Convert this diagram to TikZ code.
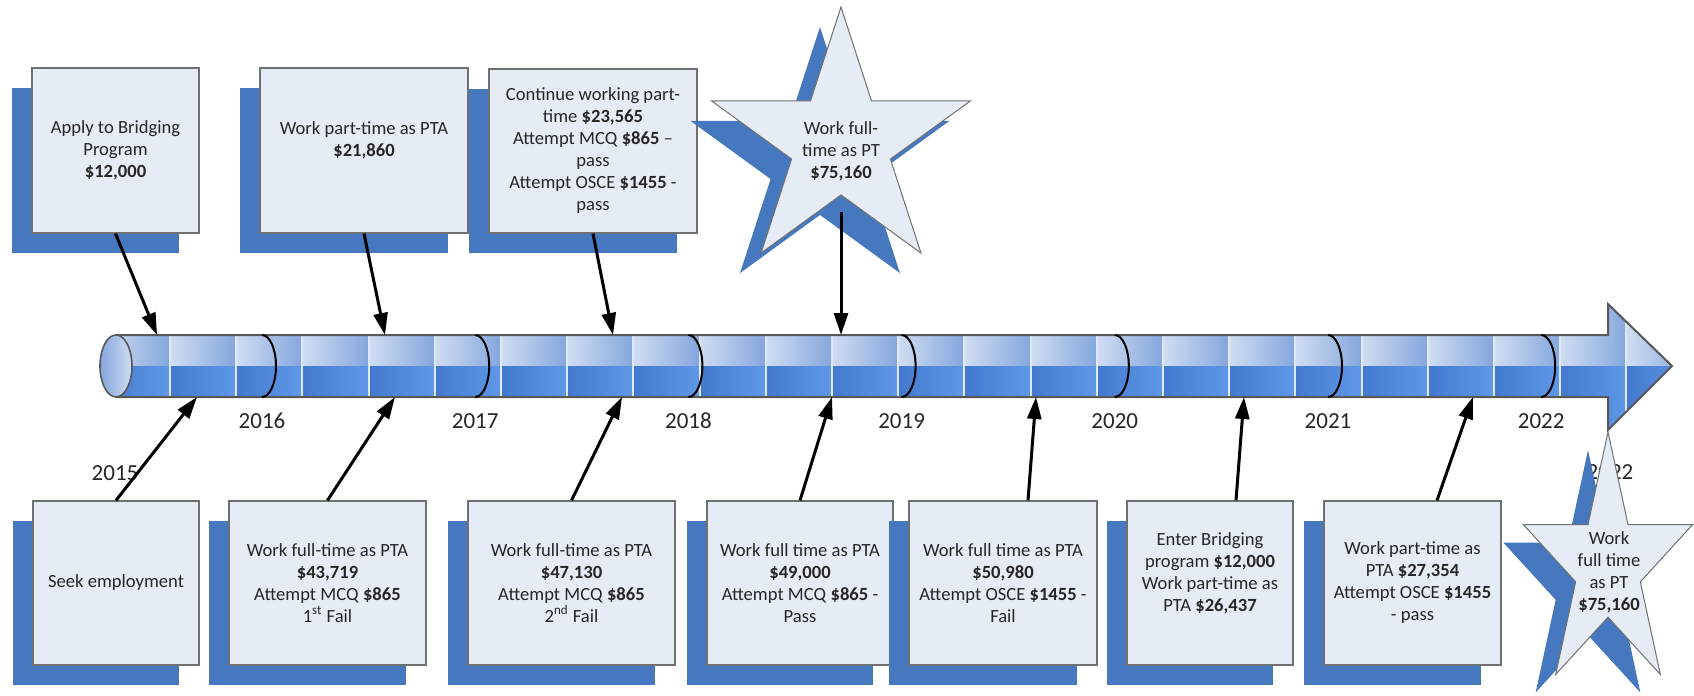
\documentclass[tikz,border=0pt]{standalone}
\usepackage{fontspec}
\setmainfont{Carlito}
\usetikzlibrary{arrows.meta, shadows, calc, positioning}

\definecolor{shadowblue}{RGB}{70,120,192}
\definecolor{boxfill}{RGB}{230,236,246}
\definecolor{boxline}{RGB}{112,112,112}
\definecolor{cellhiL}{RGB}{208,221,242}
\definecolor{cellhiR}{RGB}{132,166,221}
\definecolor{cellloL}{RGB}{66,121,206}
\definecolor{cellloR}{RGB}{96,152,232}
\definecolor{cellline}{RGB}{222,232,247}
\definecolor{tubeline}{RGB}{88,88,88}
\definecolor{textgray}{RGB}{38,38,38}

\newcommand{\evtext}{\fontsize{9.3}{11}\selectfont}
\newcommand{\yrtext}{\fontsize{11.5}{13}\selectfont}
\def\starpath#1#2#3#4{plot[samples at={0,...,9}] ({#1+#3*(1-0.618*mod(\x,2))*cos(90+36*\x)}, {#2-#4*(1-0.618*mod(\x,2))*sin(90+36*\x)}) -- cycle}

\tikzset{
  event/.style={draw=boxline, fill=boxfill, line width=0.6pt, align=center,
    font=\evtext, text=textgray, inner sep=2pt,
    drop shadow={shadow xshift=-10pt, shadow yshift=-10pt, fill=shadowblue, opacity=1}},
  starbody/.style={fill=boxfill, draw=boxline, line width=0.5pt},
  startext/.style={align=center, font=\evtext, text=textgray},
  link/.style={line width=1.5pt, -{Triangle[length=11pt,width=7pt]}},
  year/.style={font=\yrtext, text=textgray},
  yearring/.style={line width=1pt, black},
}

\begin{document}
\begin{tikzpicture}[x=0.5pt, y=-0.5pt]

    \useasboundingbox (0,0) rectangle (1694,696);

    % timeline
    \begin{scope}
        \clip (116,335) -- (1608,335) -- (1608,304) -- (1672,366) -- (1608,430) -- (1608,397) -- (116,397) -- cycle;
        \foreach \k in {0,...,23} {
            \pgfmathsetmacro\xa{103.8+66.2*\k}
            \shade[left color=cellhiL, right color=cellhiR] (\xa,300) rectangle ++(66.2,66);
            \shade[left color=cellloL, right color=cellloR] (\xa,366) rectangle ++(66.2,68);
            \draw[cellline, line width=1pt] (\xa,300) -- ++(0,134);
        }
    \end{scope}
    \draw[tubeline, line width=1pt] (116,335) -- (1608,335) -- (1608,304) -- (1672,366) -- (1608,430) -- (1608,397) -- (116,397);
    \filldraw[draw=tubeline, line width=0.8pt, left color=cellhiR, right color=cellhiL]
        (116,366) ellipse [x radius=8pt, y radius=15.5pt];

    \foreach \yr [count=\i from 0] in {2016,...,2022} {
        \pgfmathsetmacro\xr{262+213.2*\i}
        \draw[yearring] (\xr,335) arc[start angle=90, end angle=-90, x radius=7pt, y radius=15.5pt];
        \node[year] (y\yr) at (\xr,421) {\yr};
    }
    \node[year] (y2015) at (115,473) {2015};
    \node[year] (y2022b) at (1610,472) {2022};

    \coordinate (onA) at (157,335);
    \coordinate (onB) at (385,335);
    \coordinate (onC) at (613,335);
    \coordinate (onD) at (841,335);
    \coordinate (unA) at (197,397);
    \coordinate (unB) at (395,397);
    \coordinate (unC) at (622,397);
    \coordinate (unD) at (832,397);
    \coordinate (unE) at (1036,397);
    \coordinate (unF) at (1244,397);
    \coordinate (unG) at (1473,397);

    % upper events
    \node[event, minimum width=83.5pt, minimum height=82.5pt] (apply) at (115.5,150.5)
        {Apply to Bridging\\Program\\\textbf{\$12,000}};
    \node[event, minimum width=104pt, minimum height=82.5pt] (parttime) at (364,150.5)
        {Work part-time as PTA\\\textbf{\$21,860}\\\mbox{}};
    \node[event, minimum width=104pt, minimum height=82pt] (contin) at (593,151)
        {Continue working part-\\time \textbf{\$23,565}\\Attempt MCQ \textbf{\$865} --\\pass\\Attempt OSCE \textbf{\$1455} -\\pass};

    \fill[shadowblue] \starpath{820}{163}{136}{136};
    \filldraw[starbody] \starpath{841}{143}{136}{136};
    \node[startext] (starA) at (841,151) {Work full-\\time as PT\\\textbf{\$75,160}};
    \coordinate (starAfoot) at (841,212);

    % lower events
    \node[event, minimum width=83pt, minimum height=82pt] (seek) at (116,583)
        {Seek employment};
    \node[event, minimum width=98.5pt, minimum height=82pt] (fullA) at (327.5,583)
        {Work full-time as PTA\\\textbf{\$43,719}\\Attempt MCQ \textbf{\$865}\\1\textsuperscript{st} Fail};
    \node[event, minimum width=103.5pt, minimum height=82pt] (fullB) at (571.5,583)
        {Work full-time as PTA\\\textbf{\$47,130}\\Attempt MCQ \textbf{\$865}\\2\textsuperscript{nd} Fail};
    \node[event, minimum width=93pt, minimum height=82pt] (fullC) at (800,583)
        {Work full time as PTA\\\textbf{\$49,000}\\Attempt MCQ \textbf{\$865} -\\Pass};
    \node[event, minimum width=94pt, minimum height=82pt] (fullD) at (1003,583)
        {Work full time as PTA\\\textbf{\$50,980}\\Attempt OSCE \textbf{\$1455} -\\Fail};
    \node[event, minimum width=83pt, minimum height=82pt] (enter) at (1210,583)
        {Enter Bridging\\program \textbf{\$12,000}\\Work part-time as\\PTA \textbf{\$26,437}\\\mbox{}};
    \node[event, minimum width=88.5pt, minimum height=82pt] (osce) at (1412.5,583)
        {Work part-time as\\PTA \textbf{\$27,354}\\Attempt OSCE \textbf{\$1455}\\- pass};

    \fill[shadowblue] \starpath{1588}{584}{89}{134};
    \filldraw[starbody] \starpath{1608}{566}{89}{134};
    \node[startext] (starB) at (1609,572) {Work\\full time\\as PT\\\textbf{\$75,160}};

    % connectors
    \draw[link] (apply.south) -- (onA);
    \draw[link] (parttime.south) -- (onB);
    \draw[link] (contin.south) -- (onC);
    \draw[link] (starAfoot) -- (onD);
    \draw[link] (seek.north) -- (unA);
    \draw[link] (fullA.north) -- (unB);
    \draw[link] (fullB.north) -- (unC);
    \draw[link] (fullC.north) -- (unD);
    \draw[link] ($(fullD.north)+(25,0)$) -- (unE);
    \draw[link] ($(enter.north)+(26,0)$) -- (unF);
    \draw[link] ($(osce.north)+(24.5,0)$) -- (unG);

\end{tikzpicture}
\end{document}
